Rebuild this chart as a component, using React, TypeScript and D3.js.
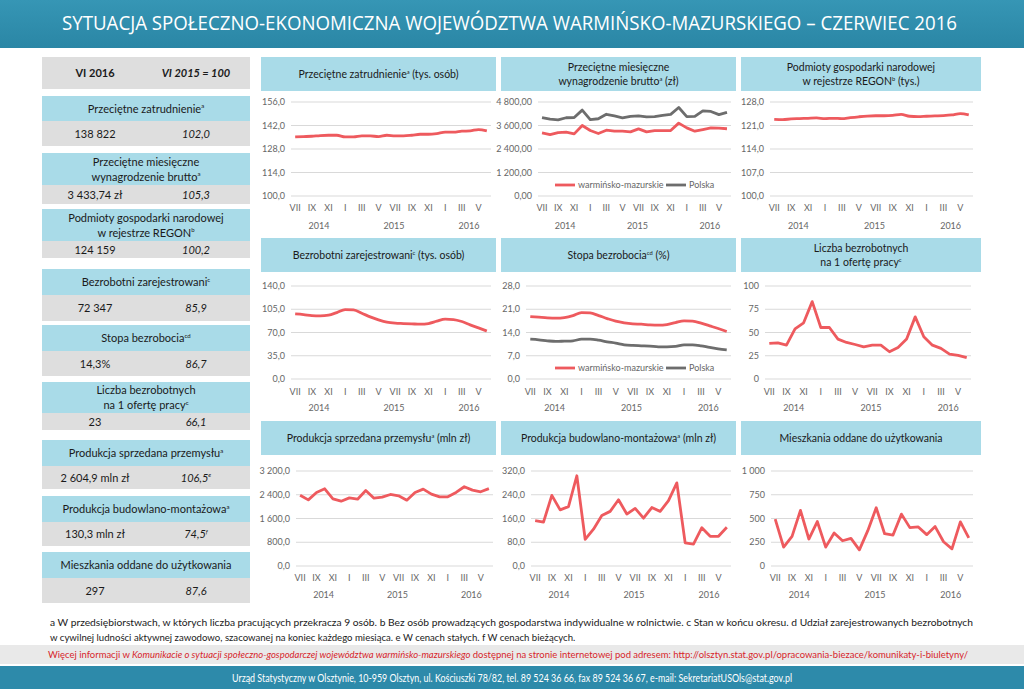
import * as d3 from "d3";

// ---- data (VII 2014 – VI 2016) ----
const monthLabels = ["VII", "VIII", "IX", "X", "XI", "XII", "I", "II", "III", "IV", "V", "VI", "VII", "VIII", "IX", "X", "XI", "XII", "I", "II", "III", "IV", "V", "VI"];
const yearLabels = ["2014", "2015", "2016"];
const yearSpans = [[0, 5], [6, 17], [18, 23]];

const employment = [135.2, 135.4, 135.6, 136.0, 136.2, 136.2, 135.2, 135.2, 135.8, 135.8, 135.4, 136.2, 135.8, 135.8, 136.2, 136.8, 136.8, 137.2, 138.0, 138.0, 138.6, 138.8, 139.6, 138.8];
const wageWM = [3223, 3137, 3240, 3257, 3171, 3600, 3343, 3189, 3360, 3309, 3309, 3274, 3429, 3274, 3343, 3343, 3343, 3720, 3480, 3309, 3394, 3480, 3463, 3434];
const wagePL = [4003, 3921, 3887, 3995, 4006, 4386, 3898, 3944, 4174, 4092, 3990, 4069, 4095, 4041, 4057, 4119, 4171, 4518, 4054, 4061, 4347, 4316, 4154, 4274];
const regon = [122.85, 122.75, 122.95, 123.05, 123.15, 123.25, 123.05, 123.15, 123.05, 123.35, 123.6, 123.8, 123.9, 123.9, 124.0, 124.3, 123.75, 123.65, 123.75, 123.85, 123.95, 124.15, 124.55, 124.16];
const unemployed = [98, 97, 95.5, 95, 96, 100, 104.5, 104, 99, 93.5, 89, 85.5, 84, 83.5, 83, 82.5, 83.5, 87, 90, 89.5, 86.5, 81.5, 77, 72.3];
const rateWM = [18.8, 18.6, 18.4, 18.3, 18.5, 19.1, 20.0, 19.9, 19.1, 18.2, 17.4, 16.9, 16.6, 16.5, 16.3, 16.2, 16.4, 17.0, 17.5, 17.4, 16.8, 16.0, 15.2, 14.3];
const ratePL = [12.0, 11.8, 11.5, 11.3, 11.4, 11.5, 12.0, 12.0, 11.7, 11.2, 10.8, 10.3, 10.1, 10.0, 9.9, 9.7, 9.7, 9.8, 10.3, 10.3, 10.0, 9.5, 9.1, 8.8];
const perOffer = [38.2, 38.9, 36.4, 53.9, 60.4, 83.2, 55.4, 55.4, 42.9, 39.3, 37.1, 34.6, 36.4, 36.4, 29.3, 33.9, 42.9, 66.8, 45.4, 36.4, 32.9, 26.8, 25.4, 23];
const industry = [2386, 2228, 2477, 2601, 2262, 2183, 2296, 2251, 2545, 2285, 2319, 2409, 2364, 2217, 2477, 2590, 2421, 2330, 2330, 2477, 2669, 2556, 2500, 2605];
const construction = [153, 148, 238, 189, 200, 304, 90, 124, 170, 184, 223, 175, 194, 161, 197, 184, 220, 280, 78, 74, 129, 100, 100, 130.3];
const dwellings = [493, 199, 312, 585, 284, 468, 199, 348, 266, 291, 170, 372, 613, 340, 326, 546, 404, 411, 330, 415, 255, 181, 465, 297];

// left summary panel
const summaryLabels = [
  ["Przeciętne zatrudnienie"],
  ["Przeciętne miesięczne", "wynagrodzenie brutto"],
  ["Podmioty gospodarki narodowej", "w rejestrze REGON"],
  ["Bezrobotni zarejestrowani"],
  ["Stopa bezrobocia"],
  ["Liczba bezrobotnych", "na 1 ofertę pracy"],
  ["Produkcja sprzedana przemysłu"],
  ["Produkcja budowlano-montażowa"],
  ["Mieszkania oddane do użytkowania"],
];
const summarySups = ["a", "a", "b", "c", "cd", "c", "a", "a", ""];
const summaryValues = ["138 822", "3 433,74 zł", "124 159", "72 347", "14,3%", "23", "2 604,9 mln zł", "130,3 mln zł", "297"];
const summaryIndices = ["102,0", "105,3", "100,2", "85,9", "86,7", "66,1", "106,5", "74,5", "87,6"];
const summaryIndexSups = ["", "", "", "", "", "", "e", "f", ""];

// ---- layout ----
const FONT = "Lato, 'Open Sans', sans-serif";
const RED = "#ee5a5e";
const GREY_LINE = "#6d6d6d";
const BLUE_BOX = "#a9dbe8";
const GREY_BOX = "#dedede";
const TEAL = "#2d8aaa";
const TICK = "#666666";

const blockLayout = [
  [96, 121, 146], [153, 185, 204], [209, 241, 258], [269, 295, 321], [325, 351, 376],
  [382, 413, 430], [440, 466, 489], [496, 522, 546], [552, 578, 603],
];
const rows = [
  { bt: 57, bb: 91, gt: 102, gb: 196, my: 211, yy: 229 },
  { bt: 238, bb: 272, gt: 286, gb: 379, my: 395, yy: 411 },
  { bt: 421, bb: 455, gt: 471, gb: 566, my: 581, yy: 598 },
];
const cols = [[261, 496], [501, 736], [741, 981]];

const pl = d3.formatLocale({ decimal: ",", thousands: " ", grouping: [3], currency: ["", ""] });

type Series = { values: number[]; color: string; name: string };
type Cfg = {
  row: number; col: number; gx: [number, number];
  title: { t: string; sup?: string; after?: string }[];
  min: number; max: number; step: number; fmt: string; smooth: boolean; series: Series[]; legend?: boolean;
};

const charts: Cfg[] = [
  { row: 0, col: 0, gx: [291, 491], title: [{ t: "Przeciętne zatrudnienie", sup: "a", after: " (tys. osób)" }], min: 100, max: 156, step: 14, fmt: ",.1f", smooth: true, series: [{ values: employment, color: RED, name: "warmińsko-mazurskie" }] },
  { row: 0, col: 1, gx: [538, 731], title: [{ t: "Przeciętne miesięczne" }, { t: "wynagrodzenie brutto", sup: "a", after: " (zł)" }], min: 0, max: 4800, step: 1200, fmt: ",.2f", smooth: false, legend: true, series: [{ values: wageWM, color: RED, name: "warmińsko-mazurskie" }, { values: wagePL, color: GREY_LINE, name: "Polska" }] },
  { row: 0, col: 2, gx: [770, 973], title: [{ t: "Podmioty gospodarki narodowej" }, { t: "w rejestrze REGON", sup: "b", after: " (tys.)" }], min: 100, max: 128, step: 7, fmt: ",.1f", smooth: true, series: [{ values: regon, color: RED, name: "warmińsko-mazurskie" }] },
  { row: 1, col: 0, gx: [291, 491], title: [{ t: "Bezrobotni zarejestrowani", sup: "c", after: " (tys. osób)" }], min: 0, max: 140, step: 35, fmt: ",.1f", smooth: true, series: [{ values: unemployed, color: RED, name: "warmińsko-mazurskie" }] },
  { row: 1, col: 1, gx: [526, 731], title: [{ t: "Stopa bezrobocia", sup: "cd", after: " (%)" }], min: 0, max: 28, step: 7, fmt: ",.1f", smooth: true, legend: true, series: [{ values: rateWM, color: RED, name: "warmińsko-mazurskie" }, { values: ratePL, color: GREY_LINE, name: "Polska" }] },
  { row: 1, col: 2, gx: [765, 971], title: [{ t: "Liczba bezrobotnych" }, { t: "na 1 ofertę pracy", sup: "c" }], min: 0, max: 100, step: 25, fmt: ",.0f", smooth: false, series: [{ values: perOffer, color: RED, name: "warmińsko-mazurskie" }] },
  { row: 2, col: 0, gx: [296, 493], title: [{ t: "Produkcja sprzedana przemysłu", sup: "a", after: " (mln zł)" }], min: 0, max: 3200, step: 800, fmt: ",.1f", smooth: false, series: [{ values: industry, color: RED, name: "warmińsko-mazurskie" }] },
  { row: 2, col: 1, gx: [531, 731], title: [{ t: "Produkcja budowlano-montażowa", sup: "a", after: " (mln zł)" }], min: 0, max: 320, step: 80, fmt: ",.1f", smooth: false, series: [{ values: construction, color: RED, name: "warmińsko-mazurskie" }] },
  { row: 2, col: 2, gx: [771, 973], title: [{ t: "Mieszkania oddane do użytkowania" }], min: 0, max: 1000, step: 250, fmt: ",.0f", smooth: false, series: [{ values: dwellings, color: RED, name: "warmińsko-mazurskie" }] },
];

function SupText({ t, sup, after, x, y, size, anchor = "middle", weight, style }: any) {
  return (
    <text x={x} y={y} textAnchor={anchor} fontSize={size} fontWeight={weight} fontStyle={style} fill="#1a1a1a">
      {t}
      {sup ? <tspan dy={-size * 0.38} fontSize={size * 0.55}>{sup}</tspan> : null}
      {sup && after ? <tspan dy={size * 0.38}>{after}</tspan> : after}
    </text>
  );
}

function Chart({ c }: { c: Cfg }) {
  const r = rows[c.row];
  const [bx0, bx1] = cols[c.col];
  const x = d3.scaleBand<number>().domain(d3.range(24)).range(c.gx);
  const y = d3.scaleLinear().domain([c.min, c.max]).range([r.gb, r.gt]);
  const cx = (i: number) => (x(i) as number) + x.bandwidth() / 2;
  const ticks = d3.range(c.min, c.max + c.step / 2, c.step);
  const f = pl.format(c.fmt);
  const line = d3.line<number>().x((_, i) => cx(i)).y((d) => y(d)).curve(c.smooth ? d3.curveMonotoneX : d3.curveLinear);
  const tcx = (bx0 + bx1) / 2;
  const tcy = (r.bt + r.bb) / 2;
  return (
    <g fontFamily={FONT}>
      <rect x={bx0} y={r.bt} width={bx1 - bx0} height={r.bb - r.bt} fill={BLUE_BOX} />
      {c.title.map((l, i) => (
        <SupText key={i} {...l} x={tcx} y={tcy + 4 + (c.title.length === 2 ? (i === 0 ? -7 : 7) : 0)} size={10.5} />
      ))}
      {ticks.map((t) => (
        <g key={t}>
          <line x1={c.gx[0]} x2={c.gx[1]} y1={y(t)} y2={y(t)} stroke="#d9d9d9" strokeWidth={1} />
          <text x={c.gx[0] - 6} y={y(t) + 3} textAnchor="end" fontSize={9} fill={TICK}>{f(t)}</text>
        </g>
      ))}
      {monthLabels.map((m, i) => (i % 2 === 0 ? (
        <text key={i} x={cx(i)} y={r.my} textAnchor="middle" fontSize={9} fill={TICK}>{m}</text>
      ) : null))}
      {yearLabels.map((yl, i) => (
        <text key={yl} x={(cx(yearSpans[i][0]) + cx(yearSpans[i][1])) / 2 + 3} y={r.yy} textAnchor="middle" fontSize={9} fill={TICK}>{yl}</text>
      ))}
      {c.series.slice().reverse().map((s) => (
        <path key={s.name} d={line(s.values) ?? ""} fill="none" stroke={s.color} strokeWidth={2.8} strokeLinejoin="round" />
      ))}
      {c.legend ? (
        <g fontSize={9} fill={TICK}>
          {c.series.map((s, i) => (
            <g key={s.name}>
              <line x1={555 + i * 111} x2={575 + i * 111} y1={r.gb - 11} y2={r.gb - 11} stroke={s.color} strokeWidth={2.8} />
              <text x={578 + i * 111} y={r.gb - 8}>{s.name}</text>
            </g>
          ))}
        </g>
      ) : null}
    </g>
  );
}

function Summary() {
  return (
    <g fontFamily={FONT}>
      <rect x={42} y={57} width={208} height={32} fill={GREY_BOX} />
      <text x={95} y={77} textAnchor="middle" fontSize={11} fontWeight="bold" fill="#1a1a1a">VI 2016</text>
      <text x={196} y={77} textAnchor="middle" fontSize={11} fontWeight="bold" fontStyle="italic" fill="#1a1a1a">VI 2015 = 100</text>
      {summaryLabels.map((lines, i) => {
        const [t0, t1, t2] = blockLayout[i];
        const mid = (t0 + t1) / 2;
        const vy = (t1 + t2) / 2 + 4;
        return (
          <g key={i}>
            <rect x={42} y={t0} width={208} height={t1 - t0} fill={BLUE_BOX} />
            <rect x={42} y={t1} width={208} height={t2 - t1} fill={GREY_BOX} />
            {lines.map((l, j) => (
              <SupText key={j} t={l} sup={j === lines.length - 1 ? summarySups[i] : ""} x={146}
                y={mid + 4 + (lines.length === 2 ? (j === 0 ? -7.5 : 7.5) : 0)} size={11} />
            ))}
            <text x={95} y={vy} textAnchor="middle" fontSize={11} fill="#1a1a1a">{summaryValues[i]}</text>
            <SupText t={summaryIndices[i]} sup={summaryIndexSups[i]} x={196} y={vy} size={11} style="italic" />
          </g>
        );
      })}
    </g>
  );
}

export default function App() {
  return (
    <svg width={1024} height={689} viewBox="0 0 1024 689" style={{ position: "absolute", left: 0, top: 0, display: "block", background: "#fff" }}>
      <defs>
        <linearGradient id="hdr" x1="0" y1="0" x2="0" y2="1">
          <stop offset="0" stopColor="#3696b5" />
          <stop offset="1" stopColor="#2a86a5" />
        </linearGradient>
      </defs>
      <rect x={0} y={0} width={1024} height={48} fill="url(#hdr)" />
      <text x={62} y={30} fontFamily="'Open Sans', sans-serif" fontSize={20} fill="#fff" textLength={895} lengthAdjust="spacingAndGlyphs">
        SYTUACJA SPOŁECZNO-EKONOMICZNA WOJEWÓDZTWA WARMIŃSKO-MAZURSKIEGO – CZERWIEC 2016
      </text>
      <Summary />
      {charts.map((c, i) => <Chart key={i} c={c} />)}
      <g fontFamily={FONT} fontSize={9.6} fill="#1a1a1a">
        <text x={50} y={626} textLength={923} lengthAdjust="spacingAndGlyphs">
          a W przedsiębiorstwach, w których liczba pracujących przekracza 9 osób. b Bez osób prowadzących gospodarstwa indywidualne w rolnictwie. c Stan w końcu okresu. d Udział zarejestrowanych bezrobotnych
        </text>
        <text x={50} y={641}>
          w cywilnej ludności aktywnej zawodowo, szacowanej na koniec każdego miesiąca. e W cenach stałych. f W cenach bieżących.
        </text>
      </g>
      <rect x={0} y={645} width={1024} height={19} fill="#e9e9e9" />
      <text x={48} y={658} fontFamily={FONT} fontSize={9.3} fill="#d7252b" textLength={920} lengthAdjust="spacingAndGlyphs">
        Więcej informacji w <tspan fontStyle="italic">Komunikacie o sytuacji społeczno-gospodarczej województwa warmińsko-mazurskiego</tspan>  dostępnej na stronie internetowej pod adresem: http://olsztyn.stat.gov.pl/opracowania-biezace/komunikaty-i-biuletyny/
      </text>
      <rect x={0} y={666} width={1024} height={23} fill={TEAL} />
      <text x={512} y={682} textAnchor="middle" fontFamily={FONT} fontSize={11} fill="#fff" textLength={560} lengthAdjust="spacingAndGlyphs">
        Urząd Statystyczny w Olsztynie, 10-959 Olsztyn, ul. Kościuszki 78/82, tel. 89 524 36 66, fax 89 524 36 67, e-mail: SekretariatUSOls@stat.gov.pl
      </text>
    </svg>
  );
}
